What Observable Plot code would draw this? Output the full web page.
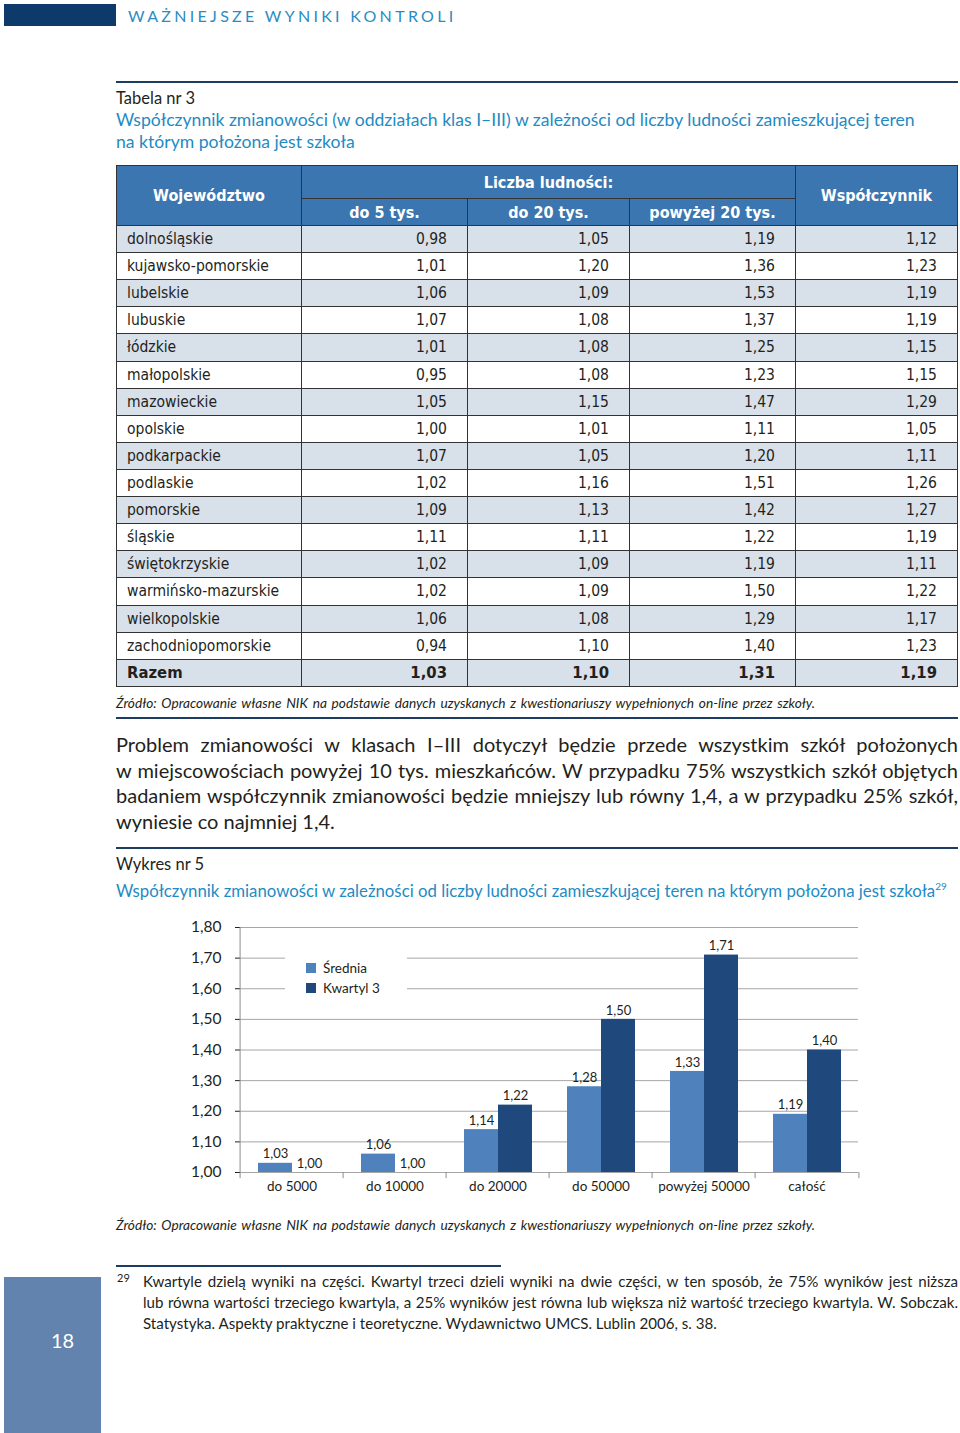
<!DOCTYPE html>
<html lang="pl">
<head>
<meta charset="utf-8">
<script src="https://cdn.jsdelivr.net/npm/d3@7"></script>
<script src="https://cdn.jsdelivr.net/npm/@observablehq/plot@0.6"></script>
<style>
  html, body { margin:0; padding:0; background:#fff; }
  body { width:960px; height:1433px; position:relative; overflow:hidden; font-family: Lato, "Open Sans", sans-serif; color:#231f20; }
  .abs { position:absolute; white-space:nowrap; }
  .hline { position:absolute; height:2px; background:#1d3d63; }
  .blue { color:#1e8bc3; }
  .just { text-align:justify; text-align-last:justify; }
  #tbl { position:absolute; left:116px; top:165px; display:grid; background:#333; border:1px solid #333; gap:1px;
         grid-template-columns: 184px 165px 161px 165px 161px;
         grid-template-rows: 32px 26px repeat(17, 26.12px);
         font-family: "DejaVu Sans Condensed", "DejaVu Sans", sans-serif; font-stretch: condensed; font-size:15.5px; }
  #tbl div { display:flex; align-items:center; white-space:nowrap; }
  #tbl .h { background:#3b76b0; color:#fff; font-weight:bold; justify-content:center; font-size:16px; }
  #tbl .n { padding-left:10px; }
  #tbl .v { justify-content:flex-end; padding-right:20px; }
  #tbl .sh { background:#d8e0ea; }
  #tbl .wh { background:#fff; }
  #tbl .b { font-weight:bold; font-size:16.5px; }
  #chart { position:absolute; left:170px; top:910px; }
  #chart [aria-label^="y-axis"] text { font-size:15.5px; }
  #chart [aria-label^="fx-axis"] text { font-size:13.5px; }
  .leg { position:absolute; left:285px; top:946px; width:122px; height:58px; background:#fff; font-size:13.5px; }
  .leg .it { position:absolute; left:21px; display:flex; align-items:center; }
  .leg .sw { width:10px; height:10px; margin-right:7px; }
  .src { font-style:italic; font-size:13.7px; line-height:18px; }
  .foot { font-size:15.1px; line-height:21px; }
</style>
</head>
<body>
<script>
// ---------- data ----------
const wojewodztwa = ["dolnośląskie","kujawsko-pomorskie","lubelskie","lubuskie","łódzkie","małopolskie","mazowieckie","opolskie","podkarpackie","podlaskie","pomorskie","śląskie","świętokrzyskie","warmińsko-mazurskie","wielkopolskie","zachodniopomorskie"];
const do5tys = [0.98,1.01,1.06,1.07,1.01,0.95,1.05,1.00,1.07,1.02,1.09,1.11,1.02,1.02,1.06,0.94];
const do20tys = [1.05,1.20,1.09,1.08,1.08,1.08,1.15,1.01,1.05,1.16,1.13,1.11,1.09,1.09,1.08,1.10];
const powyzej20tys = [1.19,1.36,1.53,1.37,1.25,1.23,1.47,1.11,1.20,1.51,1.42,1.22,1.19,1.50,1.29,1.40];
const wspolczynnik = [1.12,1.23,1.19,1.19,1.15,1.15,1.29,1.05,1.11,1.26,1.27,1.19,1.11,1.22,1.17,1.23];
const razemLabel = "Razem";
const razem = [1.03,1.10,1.31,1.19];
const tableHeaders = ["Województwo","Liczba ludności:","Współczynnik","do 5 tys.","do 20 tys.","powyżej 20 tys."];

const categories = ["do 5000","do 10000","do 20000","do 50000","powyżej 50000","całość"];
const seriesNames = ["Średnia","Kwartyl 3"];
const srednia = [1.03,1.06,1.14,1.28,1.33,1.19];
const kwartyl3 = [1.00,1.00,1.22,1.50,1.71,1.40];
const yTicks = [1.0,1.1,1.2,1.3,1.4,1.5,1.6,1.7,1.8];
const seriesColors = ["#4f81bd","#1f497d"];

const fmt = d => d.toFixed(2).replace(".", ",");

function el(tag, cls, html, style) {
  const e = document.createElement(tag);
  if (cls) e.className = cls;
  if (html != null) e.innerHTML = html;
  if (style) Object.assign(e.style, style);
  document.body.appendChild(e);
  return e;
}

// ---------- page header ----------
el("div", "", null, {position:"absolute", left:"4px", top:"4px", width:"112px", height:"22px", background:"#0d3a6b"});
el("div", "abs", "WAŻNIEJSZE WYNIKI KONTROLI", {left:"128px", top:"6px", fontSize:"16px", lineHeight:"20px", letterSpacing:"3.3px", color:"#2a8cc2"});
el("div", "hline", null, {left:"116px", top:"81px", width:"842px"});

el("div", "abs", "Tabela nr 3", {left:"116px", top:"88px", fontSize:"16.5px", lineHeight:"20px"});
el("div", "abs blue", "Współczynnik zmianowości (w oddziałach klas I–III) w zależności od liczby ludności zamieszkującej teren<br>na którym położona jest szkoła", {left:"116px", top:"109px", fontSize:"17.6px", lineHeight:"22px"});

// ---------- table ----------
const tbl = el("div", "", null); tbl.id = "tbl";
function cell(cls, text, style) { const d = document.createElement("div"); d.className = cls; d.textContent = text; if (style) Object.assign(d.style, style); tbl.appendChild(d); }
cell("h", tableHeaders[0], {gridRow:"1 / span 2", gridColumn:"1"});
cell("h", tableHeaders[1], {gridRow:"1", gridColumn:"2 / span 3"});
cell("h", tableHeaders[2], {gridRow:"1 / span 2", gridColumn:"5"});
cell("h", tableHeaders[3], {gridRow:"2", gridColumn:"2"});
cell("h", tableHeaders[4], {gridRow:"2", gridColumn:"3"});
cell("h", tableHeaders[5], {gridRow:"2", gridColumn:"4"});
wojewodztwa.forEach((w, i) => {
  const bg = i % 2 === 0 ? "sh" : "wh";
  cell("n " + bg, w);
  [do5tys[i], do20tys[i], powyzej20tys[i], wspolczynnik[i]].forEach(v => cell("v " + bg, fmt(v)));
});
cell("n sh b", razemLabel);
razem.forEach(v => cell("v sh b", fmt(v)));

const srcText = "Źródło: Opracowanie własne NIK na podstawie danych uzyskanych z kwestionariuszy wypełnionych on-line przez szkoły.";
el("div", "src just", srcText, {position:"absolute", left:"116px", top:"694px", width:"699px", whiteSpace:"nowrap"});
el("div", "hline", null, {left:"116px", top:"717px", width:"842px"});

// ---------- paragraph ----------
const para = [
  "Problem zmianowości w klasach I–III dotyczył będzie przede wszystkim szkół położonych",
  "w miejscowościach powyżej 10 tys. mieszkańców. W przypadku 75% wszystkich szkół objętych",
  "badaniem współczynnik zmianowości będzie mniejszy lub równy 1,4, a w przypadku 25% szkół,",
  "wyniesie co najmniej 1,4."
];
para.forEach((t, i) => {
  el("div", i < para.length - 1 ? "just" : "", t, {position:"absolute", left:"116px", top:(732 + i*25.5) + "px", width:"842px", fontSize:"20px", lineHeight:"25.5px", whiteSpace:"nowrap"});
});
el("div", "hline", null, {left:"116px", top:"847px", width:"842px"});

el("div", "abs", "Wykres nr 5", {left:"116px", top:"854px", fontSize:"16.5px", lineHeight:"20px"});
el("div", "abs blue", "Współczynnik zmianowości w zależności od liczby ludności zamieszkującej teren na którym położona jest szkoła<sup style=\"font-size:10px;vertical-align:7px\">29</sup>", {left:"116px", top:"875px", fontSize:"16.8px", lineHeight:"22px"});

// ---------- chart ----------
const rows = categories.flatMap((c, i) => [
  {cat: c, s: seriesNames[0], v: srednia[i]},
  {cat: c, s: seriesNames[1], v: kwartyl3[i]}
]);
const W = 700, H = 300, ML = 67, MR = 10, MT = 17, MB = 38;
const facetW = (W - ML - MR) / categories.length;
const axisColor = "#8c8c8c";

const chart = Plot.plot({
  width: W, height: H, marginLeft: ML, marginRight: MR, marginTop: MT, marginBottom: MB,
  style: {fontFamily: "Lato, sans-serif", fontSize: "13.5px", color: "#231f20", background: "transparent", overflow: "visible"},
  fx: {domain: categories, padding: 0, label: null, tickSize: 0, tickPadding: 9, axis: "bottom"},
  x: {domain: seriesNames, paddingInner: 0, paddingOuter: 0.5, axis: null},
  y: {domain: [1, 1.8], ticks: yTicks, tickFormat: fmt, tickSize: 5, tickPadding: 14, label: null},
  color: {domain: seriesNames, range: seriesColors},
  marks: [
    Plot.ruleY(yTicks, {stroke: "#a6a6a6", strokeWidth: 1}),
    Plot.ruleX([categories[0]], {fx: d => d, x: null, y1: 1, y2: 1.8, dx: -facetW / 2, stroke: axisColor}),
    Plot.ruleX([0], {x: null, y1: 1, y2: 0.98, dx: -facetW / 2, stroke: axisColor}),
    Plot.ruleX([categories[categories.length - 1]], {fx: d => d, x: null, y1: 1, y2: 0.98, dx: facetW / 2, stroke: axisColor}),
    Plot.barY(rows, {fx: "cat", x: "s", y1: 1, y2: "v", fill: "s"}),
    Plot.text(rows, {fx: "cat", x: "s", y: "v", text: d => fmt(d.v), dy: -9, fontSize: 13, fill: "#231f20"})
  ]
});
chart.id = "chart";
document.body.appendChild(chart);

// legend
const leg = el("div", "leg", null);
seriesNames.forEach((s, i) => {
  const it = document.createElement("div"); it.className = "it"; it.style.top = (14 + i * 20) + "px";
  it.innerHTML = `<span class="sw" style="background:${seriesColors[i]}"></span><span>${s}</span>`;
  leg.appendChild(it);
});

el("div", "src just", srcText, {position:"absolute", left:"116px", top:"1216px", width:"699px", whiteSpace:"nowrap"});

// ---------- footnote ----------
el("div", "hline", null, {left:"116px", top:"1265px", width:"385px"});
el("div", "abs", "29", {left:"117px", top:"1271px", fontSize:"11px", lineHeight:"14px"});
const foot = [
  "Kwartyle dzielą wyniki na części. Kwartyl trzeci dzieli wyniki na dwie części, w ten sposób, że 75% wyników jest niższa",
  "lub równa wartości trzeciego kwartyla, a 25% wyników jest równa lub większa niż wartość trzeciego kwartyla. W. Sobczak.",
  "Statystyka. Aspekty praktyczne i teoretyczne. Wydawnictwo UMCS. Lublin 2006, s. 38."
];
foot.forEach((t, i) => {
  el("div", "foot" + (i < foot.length - 1 ? " just" : ""), t, {position:"absolute", left:"143px", top:(1270.5 + i*21) + "px", width:"815px", whiteSpace:"nowrap"});
});
el("div", "", null, {position:"absolute", left:"4px", top:"1277px", width:"97px", height:"156px", background:"#6283ae"});
el("div", "abs", "18", {left:"14px", top:"1328px", width:"97px", textAlign:"center", color:"#fff", fontSize:"20px", lineHeight:"24px"});
</script>
</body>
</html>
